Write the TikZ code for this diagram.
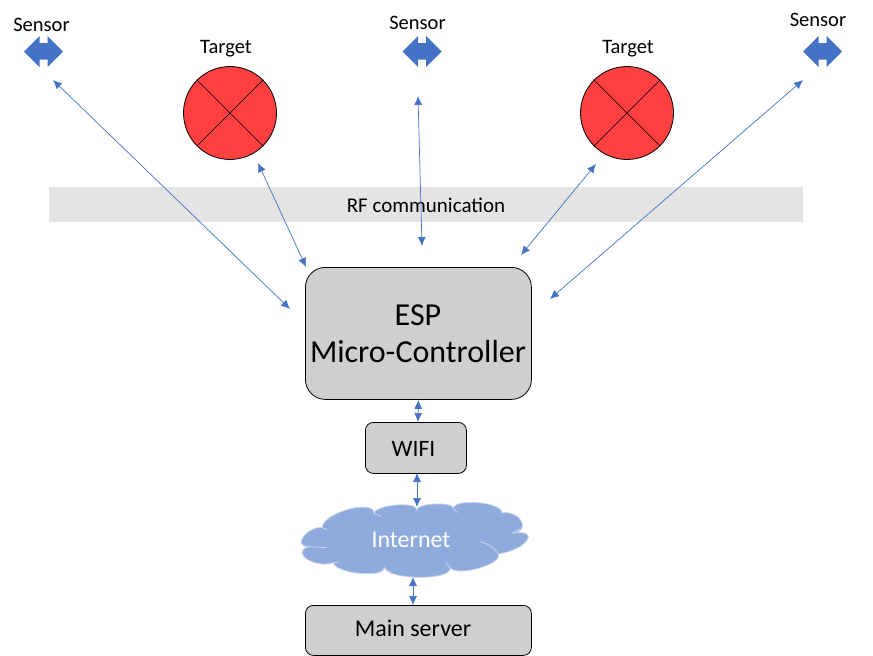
\documentclass[tikz,border=0pt]{standalone}
\usepackage{fontspec}
\setmainfont{Carlito}
\usetikzlibrary{arrows.meta,calc}
\definecolor{boxgray}{HTML}{D0CECE}
\definecolor{bandgray}{HTML}{E4E4E4}
\definecolor{linkblue}{HTML}{4472C4}
\definecolor{cloudblue}{HTML}{8FAADC}
\definecolor{cloudedge}{HTML}{C8D4EA}
\definecolor{targetred}{HTML}{FF4040}
\tikzset{
  box/.style={draw=black,line width=0.8pt,fill=boxgray,rounded corners=#1,inner sep=0pt,anchor=north west},
  lbl/.style={inner sep=0pt,font=\fontsize{#1}{#1}\selectfont,text=black},
  link/.style={draw=linkblue,line width=0.7pt,{Latex[length=9pt,width=8pt]}-{Latex[length=9pt,width=8pt]}},
  targetdisc/.style={circle,draw=black,line width=0.8pt,fill=targetred,minimum size=93pt,inner sep=0pt},
  targetcross/.style={draw=black,line width=0.6pt},
  sensorshape/.style={fill=linkblue,draw=none},
  cloudline/.style={draw=cloudedge,line width=0.8pt},
}
\newcommand{\sensorglyph}[1]{%
  \fill[sensorshape,shift={(#1)}] (-19.5,0) -- (-4,-15.5) -- (-4,-8.5) -- (4,-8.5) -- (4,-15.5) -- (19.5,0) -- (4,15.5) -- (4,8) -- (-4,8) -- (-4,15.5) -- cycle;}
\newcommand{\bump}[6]{.. controls ({(#1-2*#5+4*#3)/3},{(#2-2*#6+4*#4)/3}) and ({(#5-2*#1+4*#3)/3},{(#6-2*#2+4*#4)/3}) .. (#5,#6)}
\begin{document}
\begin{tikzpicture}[x=1pt,y=-1pt]
\useasboundingbox (0,0) rectangle (873,656);
% band
\fill[bandgray] (49,187) rectangle (803,221.5);
\node[lbl=21] (rf) at (426,205.5) {RF communication};
% sensors
\sensorglyph{43.5,51.5}
\sensorglyph{422,51.5}
\sensorglyph{822.5,51.5}
\node[lbl=20.5] (s1) at (41.5,25) {Sensor};
\node[lbl=20.5] (s2) at (417.5,23) {Sensor};
\node[lbl=20.5] (s3) at (818,20) {Sensor};
% targets
\node[targetdisc] (t1) at (230,113) {};
\node[targetdisc] (t2) at (627,113) {};
\foreach \t in {t1,t2}{
  \draw[targetcross] (\t.north west) -- (\t.south east);
  \draw[targetcross] (\t.north east) -- (\t.south west);
}
\node[lbl=20.5] (t1l) at (226,49) {Target};
\node[lbl=20.5] (t2l) at (628,49) {Target};
% boxes
\node[box=20pt,minimum width=226pt,minimum height=132pt] (esp) at (305,267) {};
\node[lbl=32,align=center] (espl) at (418,334) {ESP\\[5pt]Micro-Controller};
\node[box=8pt,minimum width=101pt,minimum height=51pt] (wifi) at (365,422) {};
\node[lbl=23.5] (wifil) at (413.5,449) {WIFI};
\node[box=8pt,minimum width=226pt,minimum height=50pt] (srv) at (305,605) {};
\node[lbl=24] (srvl) at (413,628.5) {Main server};
% cloud
\begin{scope}[shift={(290,480)},x=0.3333pt,y=-0.3333pt]
\path[fill=cloudblue,cloudline] (97,142)
  \bump{97}{142}{175}{88}{252}{100}
  \bump{252}{100}{320}{75}{380}{90}
  \bump{380}{90}{435}{72}{490}{85}
  \bump{490}{85}{565}{68}{635}{98}
  \bump{635}{98}{695}{125}{665}{160}
  \bump{665}{160}{712}{180}{625}{222}
  \bump{625}{222}{565}{265}{480}{262}
  \bump{480}{262}{390}{292}{282}{262}
  \bump{282}{262}{210}{280}{130}{248}
  \bump{130}{248}{52}{238}{55}{200}
  \bump{55}{200}{40}{170}{97}{142} -- cycle;
\draw[cloudline] (97,142) -- (112,150);
\draw[cloudline] (55,200) -- (110,203);
\draw[cloudline] (130,248) -- (146,246);
\draw[cloudline] (282,262) -- (305,280);
\draw[cloudline] (480,262) -- (468,248);
\draw[cloudline] (568,185) .. controls (595,190) and (615,205) .. (625,222);
\draw[cloudline] (665,160) -- (690,146);
\draw[cloudline] (490,85) -- (502,98);
\draw[cloudline] (252,100) -- (275,110);
\end{scope}
\node[lbl=24,text=white] (inet) at (411,540) {Internet};
% free ends
\coordinate (a1) at (53,80);
\coordinate (b1) at (290,309);
\coordinate (a2) at (258,163);
\coordinate (b2) at (306,267);
\coordinate (a3) at (418,96);
\coordinate (b3) at (422,246);
\coordinate (a4) at (596,164);
\coordinate (b4) at (521,255);
\coordinate (a5) at (803,80);
\coordinate (b5) at (550,299);
\coordinate (w1) at (418,422);
\coordinate (w2) at (417,473);
\coordinate (c1) at (417,507);
\coordinate (c2) at (413,577);
\coordinate (m1) at (413,605);
% connectors
\draw[link] (a1) -- (b1);
\draw[link] (a2) -- (b2);
\draw[link] (a3) -- (b3);
\draw[link] (a4) -- (b4);
\draw[link] (a5) -- (b5);
\draw[link] (esp.south) -- (w1);
\draw[link] (w2) -- (c1);
\draw[link] (c2) -- (m1);
\end{tikzpicture}
\end{document}
